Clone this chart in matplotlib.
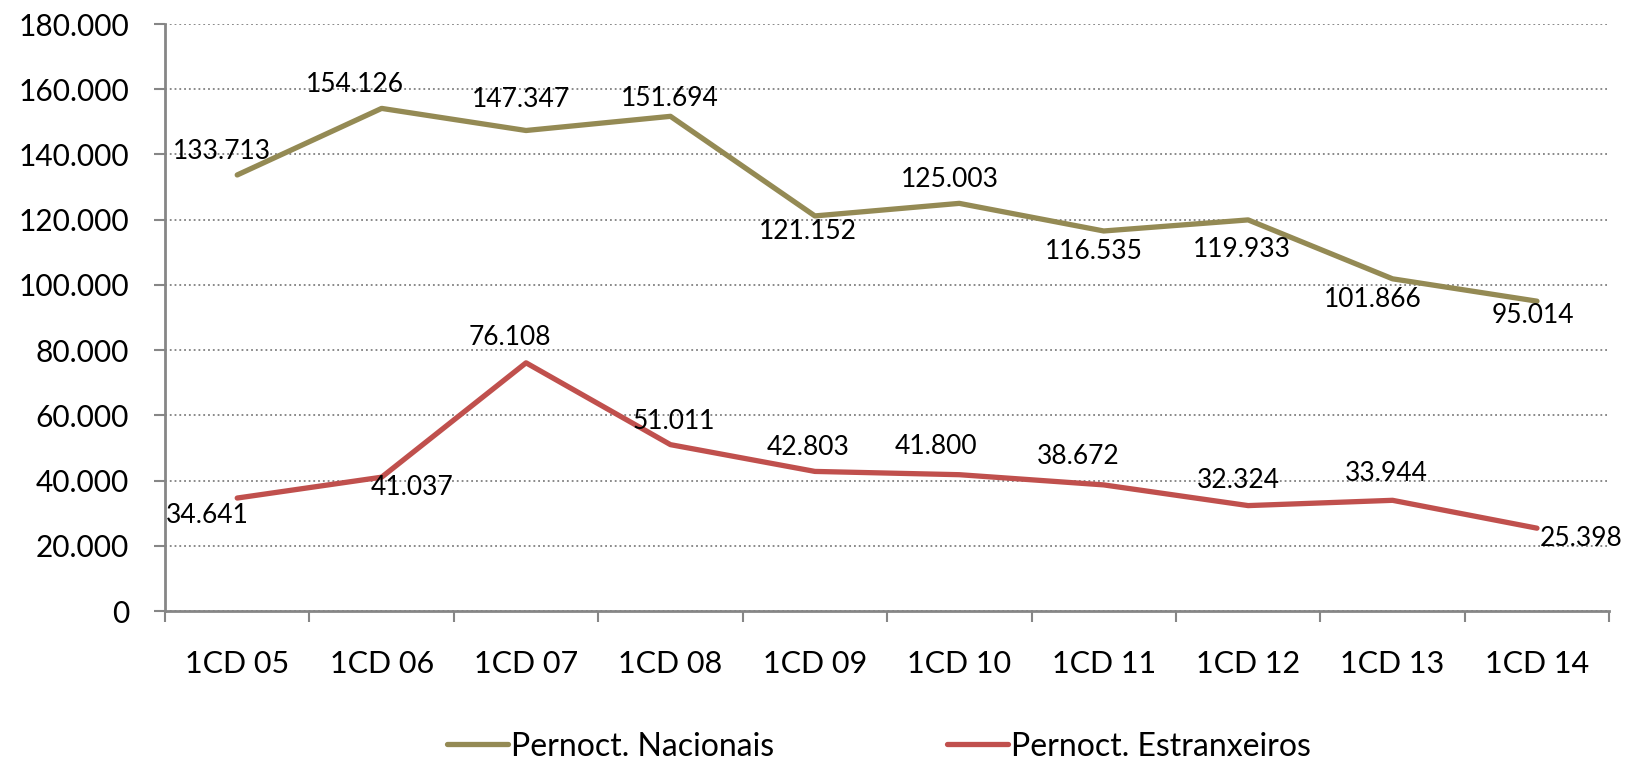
import matplotlib.pyplot as plt
from matplotlib.ticker import FuncFormatter

plt.rcParams['font.family'] = ['Lato', 'DejaVu Sans']

# data
categories = ['1CD 05', '1CD 06', '1CD 07', '1CD 08', '1CD 09',
              '1CD 10', '1CD 11', '1CD 12', '1CD 13', '1CD 14']
nacionais = [133713, 154126, 147347, 151694, 121152,
             125003, 116535, 119933, 101866, 95014]
estranxeiros = [34641, 41037, 76108, 51011, 42803,
                41800, 38672, 32324, 33944, 25398]

# label offsets in pixels (dx, dy)
off_nac = [(-15, 23), (-27, 24), (-5, 31), (-1, 18), (-7, -16),
           (-9, 24), (-10, -21), (-6, -30), (-20, -21), (-4, -14)]
off_est = [(-30, -17), (30, -10), (-16, 25), (3, 23), (-7, 24),
           (-23, 28), (-25, 28), (-10, 25), (-6, 27), (44, -10)]

fmt = lambda v: f'{int(v):,}'.replace(',', '.')

fig = plt.figure(figsize=(16.37, 7.65), dpi=100)
ax = fig.add_axes([0.1008, 0.2013, 0.8822, 0.7673])

x = list(range(len(categories)))
ax.plot(x, nacionais, color='#948A54', lw=3.8, solid_capstyle='round',
        label='Pernoct. Nacionais', zorder=3)
ax.plot(x, estranxeiros, color='#C0504D', lw=3.8, solid_capstyle='round',
        label='Pernoct. Estranxeiros', zorder=3)

for xi, v, o in zip(x, nacionais, off_nac):
    ax.annotate(fmt(v), (xi, v), xytext=o, textcoords='offset pixels',
                ha='center', va='center', fontsize=19, zorder=4)
for xi, v, o in zip(x, estranxeiros, off_est):
    ax.annotate(fmt(v), (xi, v), xytext=o, textcoords='offset pixels',
                ha='center', va='center', fontsize=19, zorder=4)

ax.set_xlim(-0.5, len(categories) - 0.5)
ax.set_ylim(0, 180000)
ax.set_yticks(range(0, 180001, 20000))
ax.yaxis.set_major_formatter(FuncFormatter(lambda v, p: fmt(v)))

# category labels centred, tick marks on the boundaries
ax.set_xticks(x)
ax.set_xticklabels(categories)
ax.set_xticks([i - 0.5 for i in range(len(categories) + 1)], minor=True)
ax.tick_params(axis='x', which='major', length=0, pad=28, labelsize=22)
ax.tick_params(axis='x', which='minor', length=8, width=1.5, color='#868686')
ax.tick_params(axis='y', length=8, width=1.5, color='#868686', pad=18, labelsize=21.5)

ax.grid(axis='y', linestyle=':', color='#808080', lw=1.3)
ax.set_axisbelow(True)
for s in ['top', 'right']:
    ax.spines[s].set_visible(False)
for s in ['left', 'bottom']:
    ax.spines[s].set_color('#868686')
    ax.spines[s].set_linewidth(2)
    ax.spines[s].set_zorder(5)

fig.legend(loc='center', bbox_to_anchor=(0.537, 0.024), ncol=2,
           frameon=False, fontsize=23, handlelength=1.9, handletextpad=0.1,
           columnspacing=5.4)

plt.savefig('out.png', dpi=100)
